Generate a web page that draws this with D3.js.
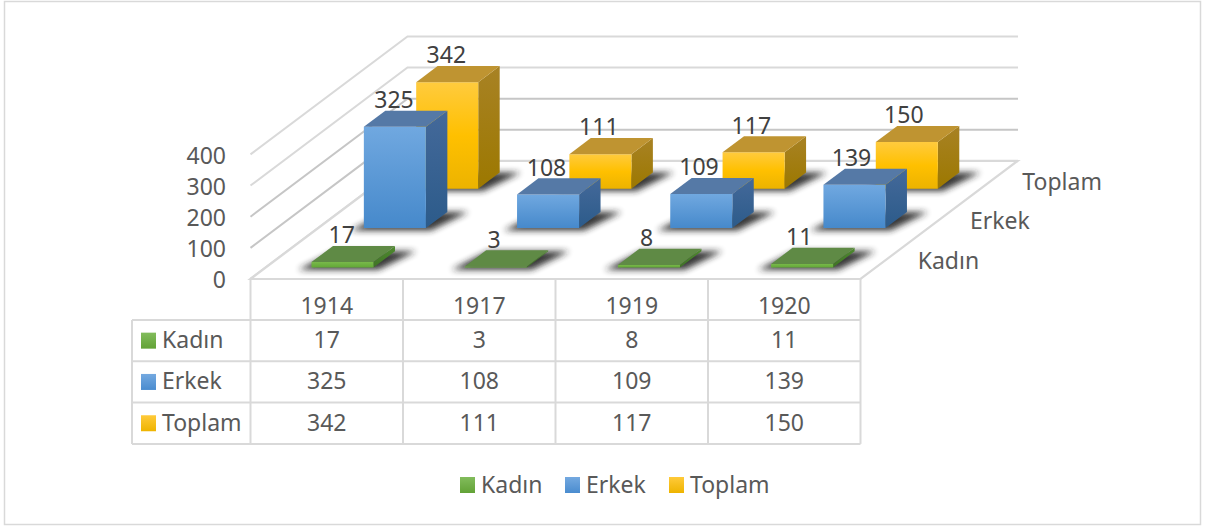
<!DOCTYPE html>
<html><head><meta charset="utf-8">
<script src="https://cdn.jsdelivr.net/npm/d3@7"></script>
<style>html,body{margin:0;padding:0;background:#fff}svg{display:block}text{font-family:"Noto Sans",sans-serif}</style>
</head><body><svg id="c" width="1206" height="527"></svg>
<script>
const years = ["1914","1917","1919","1920"];
const seriesNames = ["Kadın","Erkek","Toplam"];
const kadin = [17,3,8,11];
const erkek = [325,108,109,139];
const toplam = [342,111,117,150];
const yTicks = [0,100,200,300,400];
const seriesValues = [kadin,erkek,toplam];
const palette = [
 {top:"#5f8a45",side:["#4f8a30","#3f7325"],front:["#78b84a","#62a836"],key:["#82bc5c","#62a236"]},
 {top:"#5579a6",side:["#44699a","#2c5b8a"],front:["#70a8e0","#4689cb"],key:["#74a9e0","#4a8ccf"]},
 {top:"#bf9431",side:["#a88224","#9c7800"],front:["#ffcb3e","#ffc000","#ecb300"],key:["#ffca3a","#eeb400"]}
];
const FS = 23;
const svg = d3.select("#c");
const defs = svg.append("defs");
const X0=250.5, X1=860.5, Y0=279, DX=157, DY=-118;
const xS = d3.scaleBand().domain(years).range([X0,X0+612.8]).paddingInner(0.595).paddingOuter(0.2975);
const xL = d3.scaleBand().domain(years).range([X0,X1]).paddingInner(0.595).paddingOuter(0.2975);
const dS = d3.scaleBand().domain(seriesNames).range([0,1]).paddingInner(0.59).paddingOuter(0.295);
const yS = d3.scaleLinear().domain([0,400]).range([0,124.6]);
const catS = d3.scaleBand().domain(years).range([X0,X1]);
const proj = (x,d,v)=>[x+DX*d, Y0+DY*d-yS(v)];
const pts = a=>a.map(p=>p.join(",")).join(" ");
const GRID="#d9d9d9";

palette.forEach((p,i)=>{
  ["front","side","key"].forEach(k=>{
    const g=defs.append("linearGradient").attr("id",k+i).attr("x1",0).attr("y1",0).attr("x2",0).attr("y2",1);
    p[k].forEach((c,j)=>g.append("stop").attr("offset",j/(p[k].length-1)).attr("stop-color",c));
  });
});
defs.append("filter").attr("id","blur").attr("x","-30%").attr("y","-60%").attr("width","160%").attr("height","220%")
  .append("feGaussianBlur").attr("stdDeviation",3);

svg.append("rect").attr("x",4.5).attr("y",1.5).attr("width",1196).attr("height",523)
  .attr("fill","#fff").attr("stroke","#d9d9d9").attr("stroke-width",1.5);

// walls
yTicks.forEach(t=>{
  const a=proj(X0,0,t), b=proj(X0,1,t), c=proj(X1+0.5,1,t);
  svg.append("polyline").attr("points",pts([a,b,c])).attr("fill","none")
    .attr("stroke",(t===100||t===200)?"#c6c6c6":GRID).attr("stroke-width",t===0?2.6:2);
});
// floor
svg.append("polygon").attr("points",pts([proj(X0,0,0),proj(X0,1,0),proj(X1,1,0),proj(X1,0,0)]))
  .attr("fill","#fff").attr("stroke",GRID).attr("stroke-width",2.2);

// shadows + bars, back row first
d3.range(2,-1,-1).forEach(si=>{
  const name=seriesNames[si], p=palette[si];
  const layer=svg.append("g");
  years.forEach((yr,ci)=>{
    const xa=xS(yr), xb=xa+xS.bandwidth();
    const d0=dS(name), d1=d0+dS.bandwidth();
    layer.append("polygon").attr("filter","url(#blur)").attr("fill","#222").attr("opacity",.9)
      .attr("points",pts([proj(xa-10,d0-0.02,0),proj(xb+8,d0-0.02,0),proj(xb+21,d1,0),proj(xa+2,d1,0)]));
  });
  years.forEach((yr,ci)=>{
    const v=seriesValues[si][ci];
    const xa=xS(yr), xb=xa+xS.bandwidth();
    const d0=dS(name), d1=d0+dS.bandwidth();
    layer.append("polygon").attr("fill",`url(#side${si})`)
      .attr("points",pts([proj(xb,d0,0),proj(xb,d1,0),proj(xb,d1,v),proj(xb,d0,v)]));
    layer.append("polygon").attr("fill",`url(#front${si})`)
      .attr("points",pts([proj(xa,d0,0),proj(xb,d0,0),proj(xb,d0,v),proj(xa,d0,v)]));
    layer.append("polygon").attr("fill",p.top)
      .attr("points",pts([proj(xa,d0,v),proj(xb,d0,v),proj(xb,d1,v),proj(xa,d1,v)]));
  });
});
// data labels on top
d3.range(2,-1,-1).forEach(si=>{
  const name=seriesNames[si];
  years.forEach((yr,ci)=>{
    const v=seriesValues[si][ci];
    const q=proj(xL(yr)+xL.bandwidth()/2-0.5,dS(name),v);
    svg.append("text").attr("x",q[0]).attr("y",q[1]-27).attr("dy","0.36em")
      .attr("text-anchor","middle").attr("font-size",FS).attr("fill","#404040").text(v);
  });
});
// value axis
yTicks.forEach(t=>{
  svg.append("text").attr("x",226).attr("y",Y0-yS(t)+1).attr("dy","0.36em")
   .attr("text-anchor","end").attr("font-size",FS).attr("fill","#595959").text(t);
});
// depth axis
seriesNames.forEach(n=>{
  const d=dS(n)+dS.bandwidth()/2;
  const q=proj(X1,d,0);
  svg.append("text").attr("x",q[0]+31).attr("y",q[1]+1).attr("dy","0.36em")
   .attr("font-size",FS).attr("fill","#595959").text(n);
});
// data table
const rowH=41.3, T0=320, TL=132, rows=[0,1,2];
const tbl=svg.append("g").attr("stroke",GRID).attr("stroke-width",2);
catS.domain().forEach(y=>tbl.append("line").attr("x1",catS(y)).attr("x2",catS(y)).attr("y1",Y0).attr("y2",T0+3*rowH));
tbl.append("line").attr("x1",X1).attr("x2",X1).attr("y1",Y0).attr("y2",T0+3*rowH);
tbl.append("line").attr("x1",TL).attr("x2",TL).attr("y1",T0).attr("y2",T0+3*rowH);
d3.range(4).forEach(i=>tbl.append("line").attr("x1",TL).attr("x2",X1).attr("y1",T0+i*rowH).attr("y2",T0+i*rowH));
years.forEach(y=>{
  svg.append("text").attr("x",catS(y)+catS.bandwidth()/2).attr("y",306).attr("dy","0.36em")
    .attr("text-anchor","middle").attr("font-size",FS).attr("fill","#595959").text(y);
});
rows.forEach(r=>{
  const cy=T0+rowH*(r+0.5);
  svg.append("rect").attr("x",141).attr("y",cy-8).attr("width",15).attr("height",16).attr("fill",`url(#key${r})`);
  svg.append("text").attr("x",162).attr("y",cy-1).attr("dy","0.36em").attr("font-size",FS).attr("fill","#595959").text(seriesNames[r]);
  years.forEach((y,ci)=>{
    svg.append("text").attr("x",catS(y)+catS.bandwidth()/2).attr("y",cy-1).attr("dy","0.36em")
      .attr("text-anchor","middle").attr("font-size",FS).attr("fill","#595959").text(seriesValues[r][ci]);
  });
});
// legend
const legendX=[460,565,669];
seriesNames.forEach((n,i)=>{
  svg.append("rect").attr("x",legendX[i]).attr("y",477).attr("width",15).attr("height",16).attr("fill",`url(#key${i})`);
  svg.append("text").attr("x",legendX[i]+21).attr("y",485).attr("dy","0.36em").attr("font-size",FS).attr("fill","#595959").text(n);
});
</script></body></html>
